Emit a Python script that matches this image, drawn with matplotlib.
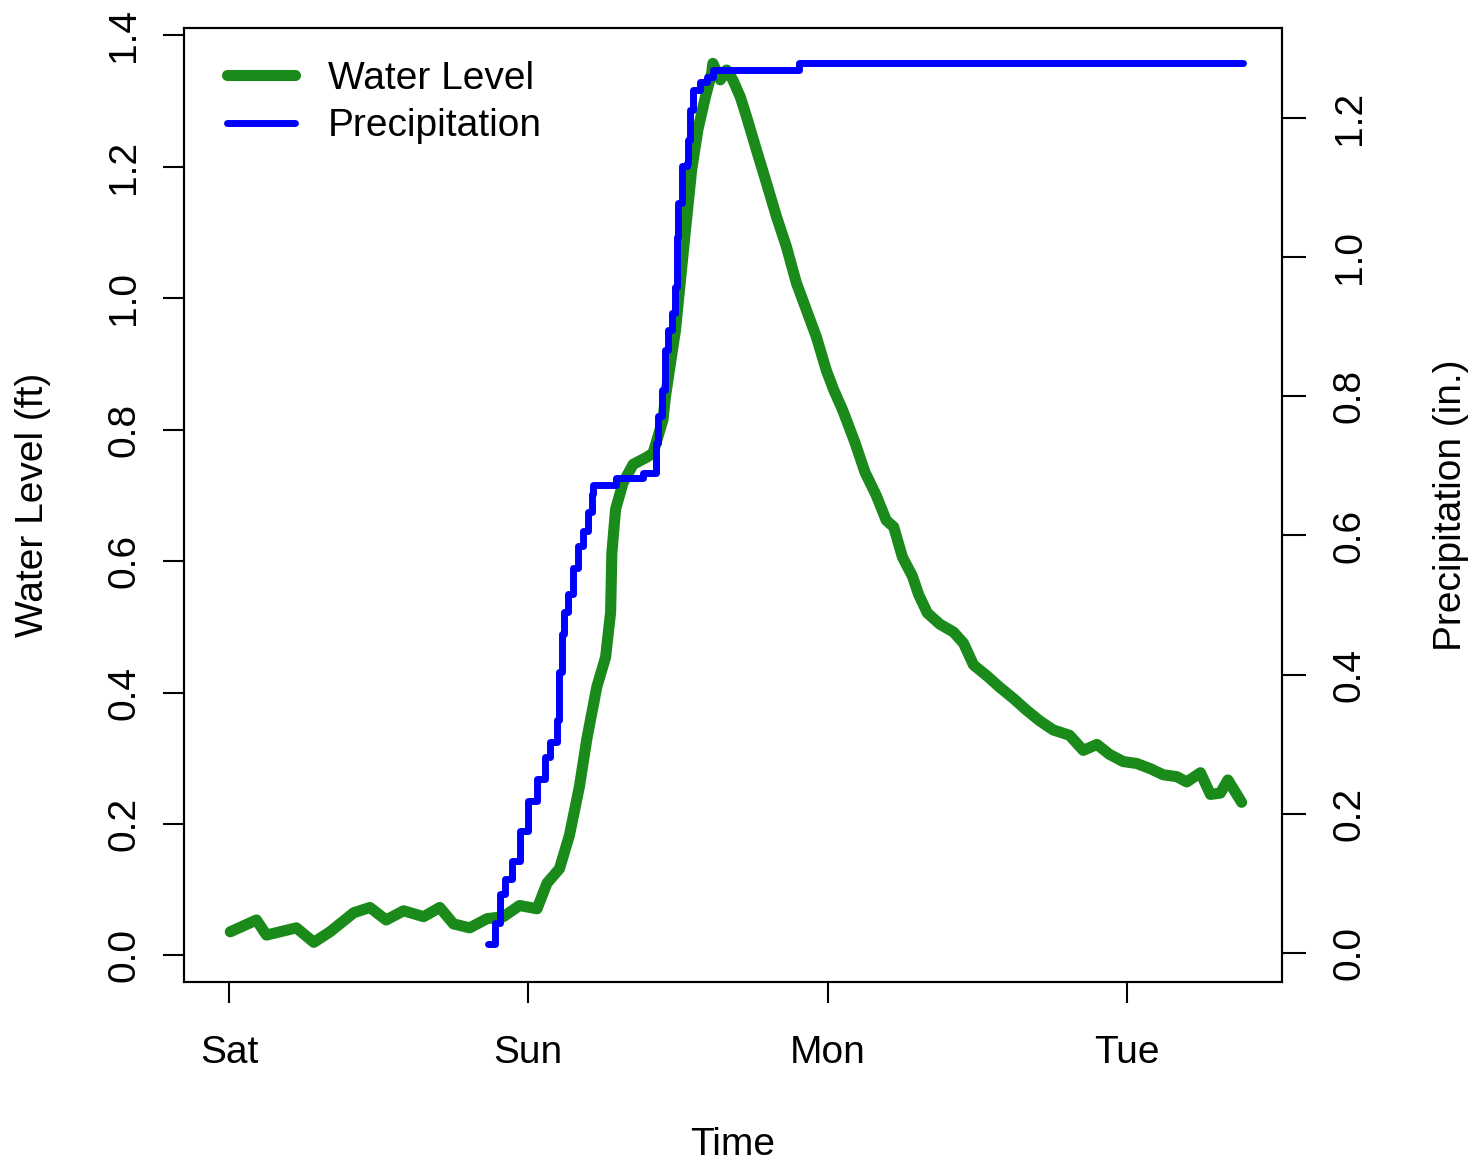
# plot.py
# Water level vs cumulative precipitation over a storm event

import matplotlib
matplotlib.use('Agg')
import matplotlib.pyplot as plt

# hours since Saturday 00:00
day_ticks  = [0, 24, 48, 72]
day_labels = ['Sat', 'Sun', 'Mon', 'Tue']

# water level (ft)
water_hours = [0.1, 2.2, 3.0, 5.4, 6.8, 8.1, 10.0, 11.3, 12.6, 14.0,
               15.6, 16.9, 18.0, 19.3, 20.7, 22.0, 23.3, 24.7, 25.5, 26.5,
               27.3, 28.1, 28.7, 29.5, 30.2, 30.6, 30.7, 31.0, 31.6, 32.4,
               33.5, 34.0, 34.8, 35.0, 35.4, 35.8, 36.2, 36.6, 37.1, 37.6,
               38.2, 38.7, 38.8, 39.4, 39.9, 40.4, 41.0, 41.5, 42.3, 43.1,
               43.9, 44.7, 45.5, 46.3, 47.1, 47.9, 48.5, 49.2, 50.2, 51.0,
               51.9, 52.7, 53.3, 54.0, 54.8, 55.3, 56.0, 57.0, 58.1, 58.9,
               59.7, 60.8, 61.8, 62.9, 63.9, 65.0, 66.1, 67.4, 68.5, 69.6,
               70.6, 71.7, 72.8, 73.9, 74.9, 76.0, 76.8, 77.9, 78.7, 79.5,
               80.1, 81.2]
water_level = [0.036, 0.054, 0.031, 0.042, 0.020, 0.036, 0.065, 0.073, 0.054, 0.068,
               0.059, 0.073, 0.048, 0.042, 0.056, 0.059, 0.076, 0.071, 0.110, 0.132,
               0.183, 0.257, 0.330, 0.409, 0.454, 0.522, 0.612, 0.679, 0.719, 0.747,
               0.758, 0.764, 0.815, 0.850, 0.901, 0.951, 1.027, 1.103, 1.195, 1.256,
               1.306, 1.342, 1.357, 1.332, 1.347, 1.332, 1.306, 1.276, 1.225, 1.175,
               1.124, 1.078, 1.023, 0.982, 0.941, 0.890, 0.860, 0.830, 0.780, 0.735,
               0.700, 0.662, 0.652, 0.606, 0.577, 0.549, 0.521, 0.504, 0.492, 0.475,
               0.442, 0.425, 0.408, 0.391, 0.374, 0.357, 0.343, 0.335, 0.312, 0.321,
               0.306, 0.295, 0.292, 0.284, 0.275, 0.272, 0.264, 0.278, 0.245, 0.247,
               0.267, 0.233]

# cumulative precipitation (in.)
precip_hours = [20.8, 21.3, 21.7, 22.1, 22.7, 23.3, 24.0, 24.7, 25.3, 25.7,
                26.3, 26.5, 26.7, 26.9, 27.2, 27.6, 28.0, 28.4, 28.8, 29.1,
                29.2, 31.0, 33.2, 34.2, 34.4, 34.7, 35.0, 35.2, 35.5, 35.8,
                35.9, 36.0, 36.3, 36.7, 36.8, 37.0, 37.2, 37.8, 38.3, 38.8,
                45.7, 81.3]
precip_in = [0.013, 0.043, 0.085, 0.106, 0.133, 0.175, 0.218, 0.250, 0.282, 0.303,
             0.335, 0.404, 0.458, 0.490, 0.516, 0.553, 0.585, 0.606, 0.634, 0.660,
             0.673, 0.682, 0.690, 0.733, 0.771, 0.809, 0.866, 0.895, 0.920, 0.957,
             1.029, 1.078, 1.130, 1.135, 1.168, 1.211, 1.240, 1.252, 1.259, 1.269,
             1.278, 1.278]

left_ticks  = [0.0, 0.2, 0.4, 0.6, 0.8, 1.0, 1.2, 1.4]
right_ticks = [0.0, 0.2, 0.4, 0.6, 0.8, 1.0, 1.2]

plt.rcParams['font.family'] = ['Liberation Sans', 'DejaVu Sans']
FS = 28

fig = plt.figure(figsize=(14.73, 11.64), dpi=100)
ax = fig.add_axes([0.125, 0.156, 0.745, 0.820])

wl, = ax.plot(water_hours, water_level, color='#1a8a1a', lw=8,
              solid_capstyle='round', solid_joinstyle='round', label='Water Level')
ax.set_xlim(-3.6, 84.4)
ax.set_ylim(-0.041, 1.411)
ax.set_xticks(day_ticks)
ax.set_xticklabels(day_labels)
ax.set_yticks(left_ticks)
ax.set_yticklabels([f'{v:.1f}' for v in left_ticks], rotation=90, va='center')
ax.tick_params(axis='both', direction='out', length=15, width=1.5,
               labelsize=FS, colors='black')
ax.tick_params(axis='x', pad=23)
ax.tick_params(axis='y', pad=15)
ax.set_xlabel('Time', fontsize=FS, labelpad=40)
ax.set_ylabel('Water Level (ft)', fontsize=FS, labelpad=40)

ax2 = ax.twinx()
pr, = ax2.plot(precip_hours, precip_in, color='blue', lw=5, drawstyle='steps-post',
               solid_capstyle='round', label='Precipitation')
ax2.set_ylim(-0.042, 1.329)
ax2.set_yticks(right_ticks)
ax2.set_yticklabels([f'{v:.1f}' for v in right_ticks], rotation=90, va='center')
ax2.tick_params(axis='y', direction='out', length=17, width=1.5, labelsize=FS, pad=19)
ax2.set_ylabel('Precipitation (in.)', fontsize=FS, labelpad=47)

for a in (ax, ax2):
    for s in a.spines.values():
        s.set_linewidth(1.5)

ax2.legend(handles=[wl, pr], loc='upper left', bbox_to_anchor=(0.025, 0.982),
           frameon=False, fontsize=FS, handlelength=1.75, handletextpad=0.85,
           labelspacing=0.3, borderaxespad=0)

fig.savefig('out.png', dpi=100)
